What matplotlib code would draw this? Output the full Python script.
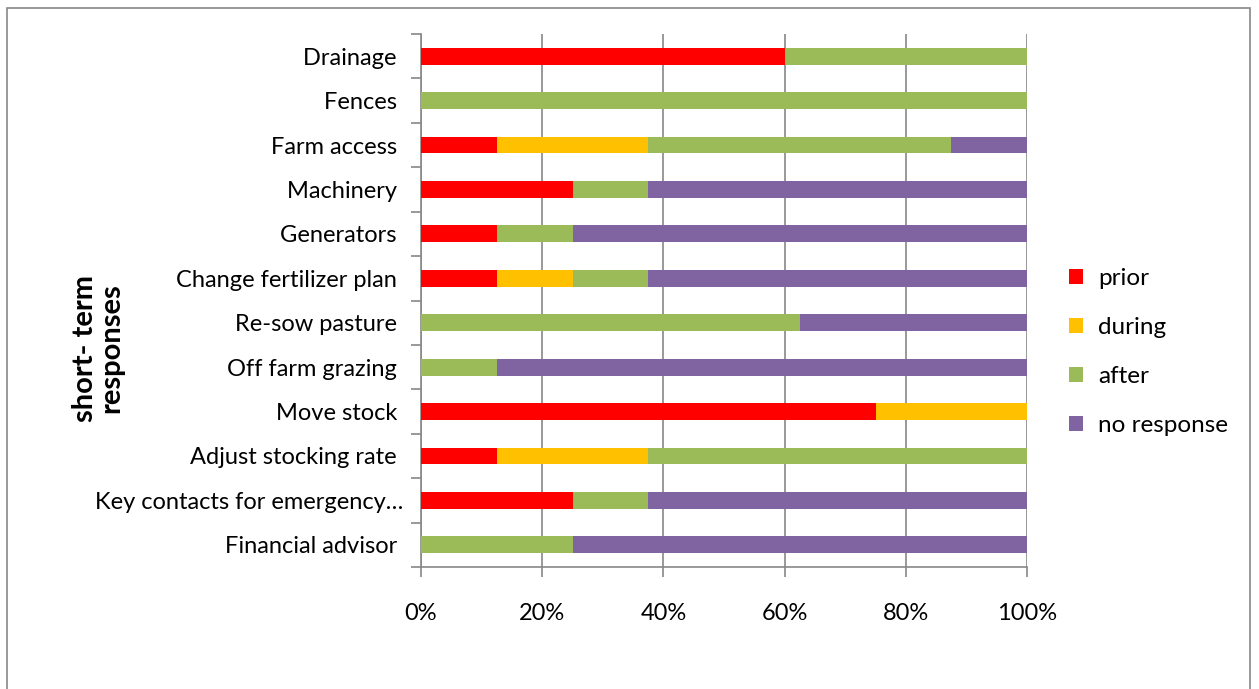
import matplotlib.pyplot as plt
import numpy as np
from matplotlib.patches import Rectangle

plt.rcParams['font.family'] = ['Lato', 'DejaVu Sans']

categories = ['Drainage', 'Fences', 'Farm access', 'Machinery', 'Generators',
              'Change fertilizer plan', 'Re-sow pasture', 'Off farm grazing',
              'Move stock', 'Adjust stocking rate', 'Key contacts for emergency…',
              'Financial advisor']
series = ['prior', 'during', 'after', 'no response']
prior = [60, 0, 12.5, 25, 12.5, 12.5, 0, 0, 75, 12.5, 25, 0]
during = [0, 0, 25, 0, 0, 12.5, 0, 0, 25, 25, 0, 0]
after = [40, 100, 50, 12.5, 12.5, 12.5, 62.5, 12.5, 0, 62.5, 12.5, 25]
no_response = [0, 0, 12.5, 62.5, 75, 62.5, 37.5, 87.5, 0, 0, 62.5, 75]
colors = ['#FF0000', '#FFC000', '#9BBB59', '#8064A2']

fig = plt.figure(figsize=(12.59, 6.89), dpi=100)
ax = fig.add_axes([421 / 1259, 1 - 567 / 689, (1027 - 421) / 1259, (567 - 34) / 689])

# outer chart frame
fig.patches.append(Rectangle((7 / 1259, -0.05), (1250 - 7) / 1259, 1.05 - 8 / 689,
                             transform=fig.transFigure, fill=False,
                             edgecolor='#888888', linewidth=1.2))

y = np.arange(len(categories))
left = np.zeros(len(categories))
for name, vals, c in zip(series, [prior, during, after, no_response], colors):
    vals = np.array(vals) / 100
    ax.barh(y, vals, left=left, height=0.38, color=c, label=name, zorder=3)
    left += vals

ax.set_ylim(len(categories) - 0.5, -0.5)
ax.set_xlim(0, 1)
ax.set_xticks(np.linspace(0, 1, 6))
ax.set_xticklabels(['0%', '20%', '40%', '60%', '80%', '100%'])
ax.set_yticks(y)
ax.set_yticklabels([c if c.endswith('…') else c + ' ' for c in categories])
ax.set_yticks(np.arange(len(categories) + 1) - 0.5, minor=True)
ax.tick_params(axis='y', which='major', length=0, pad=13, labelsize=17)
ax.tick_params(axis='y', which='minor', length=7, color='#888888', width=1.2)
ax.tick_params(axis='x', length=7, color='#888888', width=1.2, pad=19, labelsize=17)
ax.grid(axis='x', color='#888888', linewidth=1.2, zorder=0)
for s in ['top', 'right']:
    ax.spines[s].set_visible(False)
for s in ['left', 'bottom']:
    ax.spines[s].set_color('#888888')
    ax.spines[s].set_linewidth(1.2)

fig.text(98 / 1259, 1 - 348 / 689, 'short- term\nresponses', rotation=90,
         ha='center', va='center', fontsize=21, fontweight='bold', linespacing=1.0)

leg = ax.legend(loc='center left', bbox_to_anchor=(1047 / 1259, 1 - 352 / 689),
                bbox_transform=fig.transFigure, frameon=False, fontsize=17.5,
                handlelength=0.6, handleheight=0.6, handletextpad=0.6,
                labelspacing=1.15)

fig.savefig('out.png', dpi=100)
